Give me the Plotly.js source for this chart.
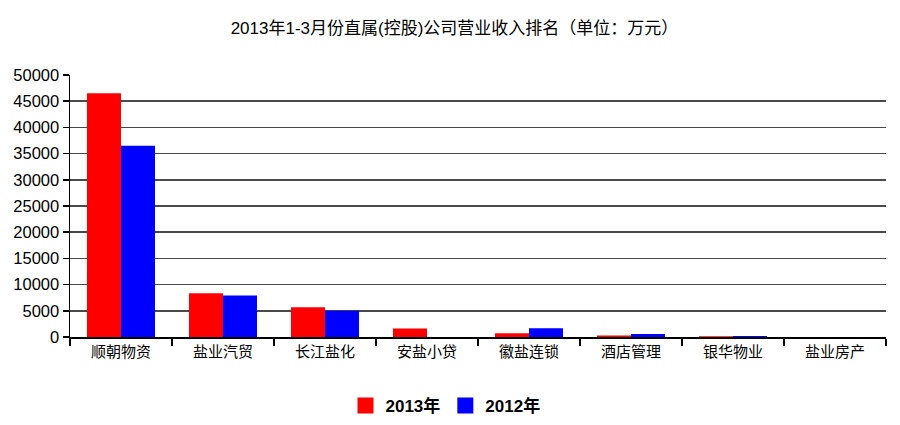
<!DOCTYPE html>
<html>
<head>
<meta charset="utf-8">
<script src="https://cdn.plot.ly/plotly-3.0.1.min.js"></script>
<style>html,body{margin:0;padding:0;background:#fff;}#chart{width:900px;height:425px;}</style>
</head>
<body>
<div id="chart"></div>
<script>
var categories = ["顺朝物资", "盐业汽贸", "长江盐化", "安盐小贷", "徽盐连锁", "酒店管理", "银华物业", "盐业房产"];
var values2013 = [46500, 8350, 5700, 1600, 700, 300, 150, 0];
var values2012 = [36500, 7900, 5000, 0, 1650, 550, 200, 0];
var seriesNames = ["2013年", "2012年"];
var yTicks = [0, 5000, 10000, 15000, 20000, 25000, 30000, 35000, 40000, 45000, 50000];

var FONT = "Liberation Sans, Arial, Noto Sans CJK SC, sans-serif";
var colors = ["#ff0000", "#0000ff"];

var traces = [
  {type: "bar", x: categories, y: values2013, name: seriesNames[0], marker: {color: colors[0]}, showlegend: false, hoverinfo: "y"},
  {type: "bar", x: categories, y: values2012, name: seriesNames[1], marker: {color: colors[1]}, showlegend: false, hoverinfo: "y"},
  {type: "scatter", mode: "markers", x: [null], y: [null], name: seriesNames[0], marker: {color: colors[0], symbol: "square", size: 16}, showlegend: true},
  {type: "scatter", mode: "markers", x: [null], y: [null], name: seriesNames[1], marker: {color: colors[1], symbol: "square", size: 16}, showlegend: true}
];

var layout = {
  width: 900, height: 425,
  margin: {l: 70, r: 14, t: 75, b: 88},
  paper_bgcolor: "#ffffff", plot_bgcolor: "#ffffff",
  font: {family: FONT, color: "#000"},
  title: {text: "2013年1-3月份直属(控股)公司营业收入排名（单位：万元）", x: 0.505, xanchor: "center", y: 0.935, yanchor: "middle", font: {size: 17, color: "#000", family: FONT}},
  barmode: "group", bargap: 0.333, bargroupgap: 0,
  xaxis: {
    type: "category", tickson: "boundaries", ticks: "outside", ticklen: 7, tickwidth: 1.5, tickcolor: "#000",
    showline: true, linecolor: "#000", linewidth: 1.5, showgrid: false,
    tickfont: {size: 15, family: FONT, color: "#000"}, fixedrange: true
  },
  yaxis: {
    range: [0, 50000], tickvals: yTicks, ticktext: yTicks.map(String),
    ticks: "outside", ticklen: 6, tickwidth: 1.5, tickcolor: "#000",
    showline: true, linecolor: "#000", linewidth: 1.5,
    showgrid: true, gridcolor: "#4a4a4a", gridwidth: 1.5, zeroline: false,
    tickfont: {size: 16.5, family: FONT, color: "#000"}, fixedrange: true
  },
  legend: {
    orientation: "h", xref: "container", yref: "container", x: 0.495, xanchor: "center", y: 0.045, yanchor: "middle",
    font: {size: 17, family: FONT, color: "#000", weight: "bold"}, itemsizing: "trace", bgcolor: "rgba(0,0,0,0)"
  },
  showlegend: true
};

Plotly.newPlot("chart", traces, layout, {displayModeBar: false, staticPlot: true});
</script>
</body>
</html>
